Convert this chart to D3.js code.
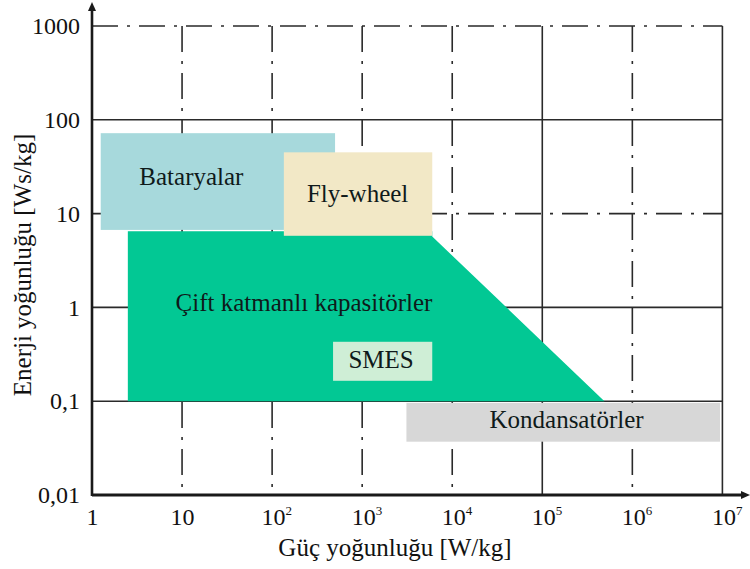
<!DOCTYPE html>
<meta charset="utf-8">
<style>
body {
  margin: 0;
  background: #fff;
}
svg {
  display: block;
  font-family: "Liberation Serif", "Times New Roman", serif;
}
.grid {
  fill: none;
  stroke: #2a2a2a;
  stroke-width: 1.6px;
}
.grid.dashdot {
  stroke-dasharray: 26,9,3,9;
}
.axis-line {
  stroke: #1a1a1a;
  stroke-width: 2.6px;
}
.region-label {
  font-size: 25px;
  fill: #0f1a1a;
}
.axis-title {
  font-size: 25px;
  fill: #111;
}
</style>
<body>
<svg width="750" height="569"></svg>
<script src="https://d3js.org/d3.v7.min.js"></script>
<script>
// tick values
var xTicks = [1, 10, 100, 1e3, 1e4, 1e5, 1e6, 1e7];
var xTickExponents = [0, 1, 2, 3, 4, 5, 6, 7];
var yTicks = [0.01, 0.1, 1, 10, 100, 1000];
var yTickLabels = ["0,01", "0,1", "1", "10", "100", "1000"];
var solidX = [1e5, 1e7];
var solidY = [0.1, 1, 100];

// rectangular regions (power W/kg, energy Ws/kg)
var boxNames = ["Bataryalar", "Fly-wheel", "SMES", "Kondansatörler"];
var boxPower = [[1.25, 500], [135, 6000], [475, 6000], [3100, 9.4e6]];
var boxEnergy = [[6.7, 72], [5.8, 45], [0.165, 0.43], [0.037, 0.096]];

// double layer capacitor area
var capName = "Çift katmanlı kapasitörler";
var capPower = [2.5, 2.5, 6000, 6000, 4.9e5];
var capEnergy = [0.1, 6.5, 6.5, 5.7, 0.1];

// label anchors
var labelNames = ["Bataryalar", "Fly-wheel", "Çift katmanlı kapasitörler", "SMES", "Kondansatörler"];
var labelPower = [12.7, 890, 226, 1620, 1.86e5];
var labelEnergy = [20, 13.4, 0.92, 0.224, 0.052];

var svg = d3.select("svg");

var x = d3.scaleLog().domain([1, 1e7]).range([92, 722.4]),
    y = d3.scaleLog().domain([0.01, 1000]).range([495, 26]);

var fill = d3.scaleOrdinal()
    .domain(["Bataryalar", "Fly-wheel", "SMES", "Kondansatörler", capName])
    .range(["#a7d9dc", "#f2e8c6", "#cfeed6", "#d7d7d7", "#02c894"]);

// grid
var g = svg.append("g");

g.selectAll(".vline")
  .data(xTicks.slice(1))
  .enter().append("line")
    .attr("class", function(d) { return solidX.indexOf(d) >= 0 ? "grid" : "grid dashdot"; })
    .attr("x1", function(d) { return x(d); })
    .attr("x2", function(d) { return x(d); })
    .attr("y1", y(1000))
    .attr("y2", y(0.01));

g.selectAll(".hline")
  .data(yTicks.slice(1))
  .enter().append("line")
    .attr("class", function(d) { return solidY.indexOf(d) >= 0 ? "grid" : "grid dashdot"; })
    .attr("x1", x(1))
    .attr("x2", x(1e7))
    .attr("y1", function(d) { return y(d); })
    .attr("y2", function(d) { return y(d); });

// capacitor polygon
var capPoints = capPower.map(function(p, i) { return [x(p), y(capEnergy[i])]; });
svg.append("path")
    .attr("d", d3.line()(capPoints) + "Z")
    .attr("fill", fill(capName));

// boxes
svg.selectAll(".box")
  .data(boxNames)
  .enter().append("rect")
    .attr("class", "box")
    .attr("x", function(d, i) { return x(boxPower[i][0]); })
    .attr("width", function(d, i) { return x(boxPower[i][1]) - x(boxPower[i][0]); })
    .attr("y", function(d, i) { return y(boxEnergy[i][1]); })
    .attr("height", function(d, i) { return y(boxEnergy[i][0]) - y(boxEnergy[i][1]); })
    .attr("fill", function(d) { return fill(d); });

// labels
svg.selectAll(".region-label")
  .data(labelNames)
  .enter().append("text")
    .attr("class", "region-label")
    .attr("text-anchor", "middle")
    .attr("x", function(d, i) { return x(labelPower[i]); })
    .attr("y", function(d, i) { return y(labelEnergy[i]); })
    .text(function(d) { return d; });

// axes
var xAxis = svg.append("g")
    .attr("transform", "translate(0," + y(0.01) + ")")
    .call(d3.axisBottom(x).tickValues(xTicks).tickSize(0).tickPadding(13)
      .tickFormat(function(d, i) { return xTickExponents[i] < 2 ? String(d) : "10"; }));
xAxis.select(".domain").remove();
xAxis.selectAll("text")
    .attr("font-size", 24)
    .attr("font-family", "Liberation Serif")
    .attr("fill", "#111")
    .each(function(d, i) {
      var e = xTickExponents[i];
      if (e < 2) return;
      var t = d3.select(this).attr("text-anchor", "start").attr("x", -11);
      t.append("tspan")
          .attr("font-size", 13)
          .attr("dy", "-0.8em")
          .attr("dx", 0)
          .text(e);
    });

var yAxis = svg.append("g")
    .attr("transform", "translate(" + x(1) + ",0)")
    .call(d3.axisLeft(y).tickValues(yTicks).tickSize(0).tickPadding(12)
      .tickFormat(function(d, i) { return yTickLabels[i]; }));
yAxis.select(".domain").remove();
yAxis.selectAll("text")
    .attr("font-size", 24)
    .attr("font-family", "Liberation Serif")
    .attr("fill", "#111");

// axis lines with arrows
svg.append("line")
    .attr("class", "axis-line")
    .style("stroke-width", "3.2px")
    .attr("x1", x(1)).attr("x2", 744)
    .attr("y1", y(0.01)).attr("y2", y(0.01));
svg.append("path")
    .attr("d", "M750," + y(0.01) + "L741," + (y(0.01) - 4) + "L741," + (y(0.01) + 4) + "Z")
    .attr("fill", "#1a1a1a");
svg.append("line")
    .attr("class", "axis-line")
    .attr("x1", x(1)).attr("x2", x(1))
    .attr("y1", y(0.01) + 1).attr("y2", 9);
svg.append("path")
    .attr("d", "M" + x(1) + ",2L" + (x(1) - 4) + ",11L" + (x(1) + 4) + ",11Z")
    .attr("fill", "#1a1a1a");

// axis titles
svg.append("text")
    .attr("class", "axis-title")
    .attr("text-anchor", "middle")
    .attr("x", 395)
    .attr("y", 556)
    .text("Güç yoğunluğu [W/kg]");

svg.append("text")
    .attr("class", "axis-title")
    .attr("text-anchor", "middle")
    .attr("transform", "translate(31,265) rotate(-90)")
    .text("Enerji yoğunluğu [Ws/kg]");
</script>
</body>
